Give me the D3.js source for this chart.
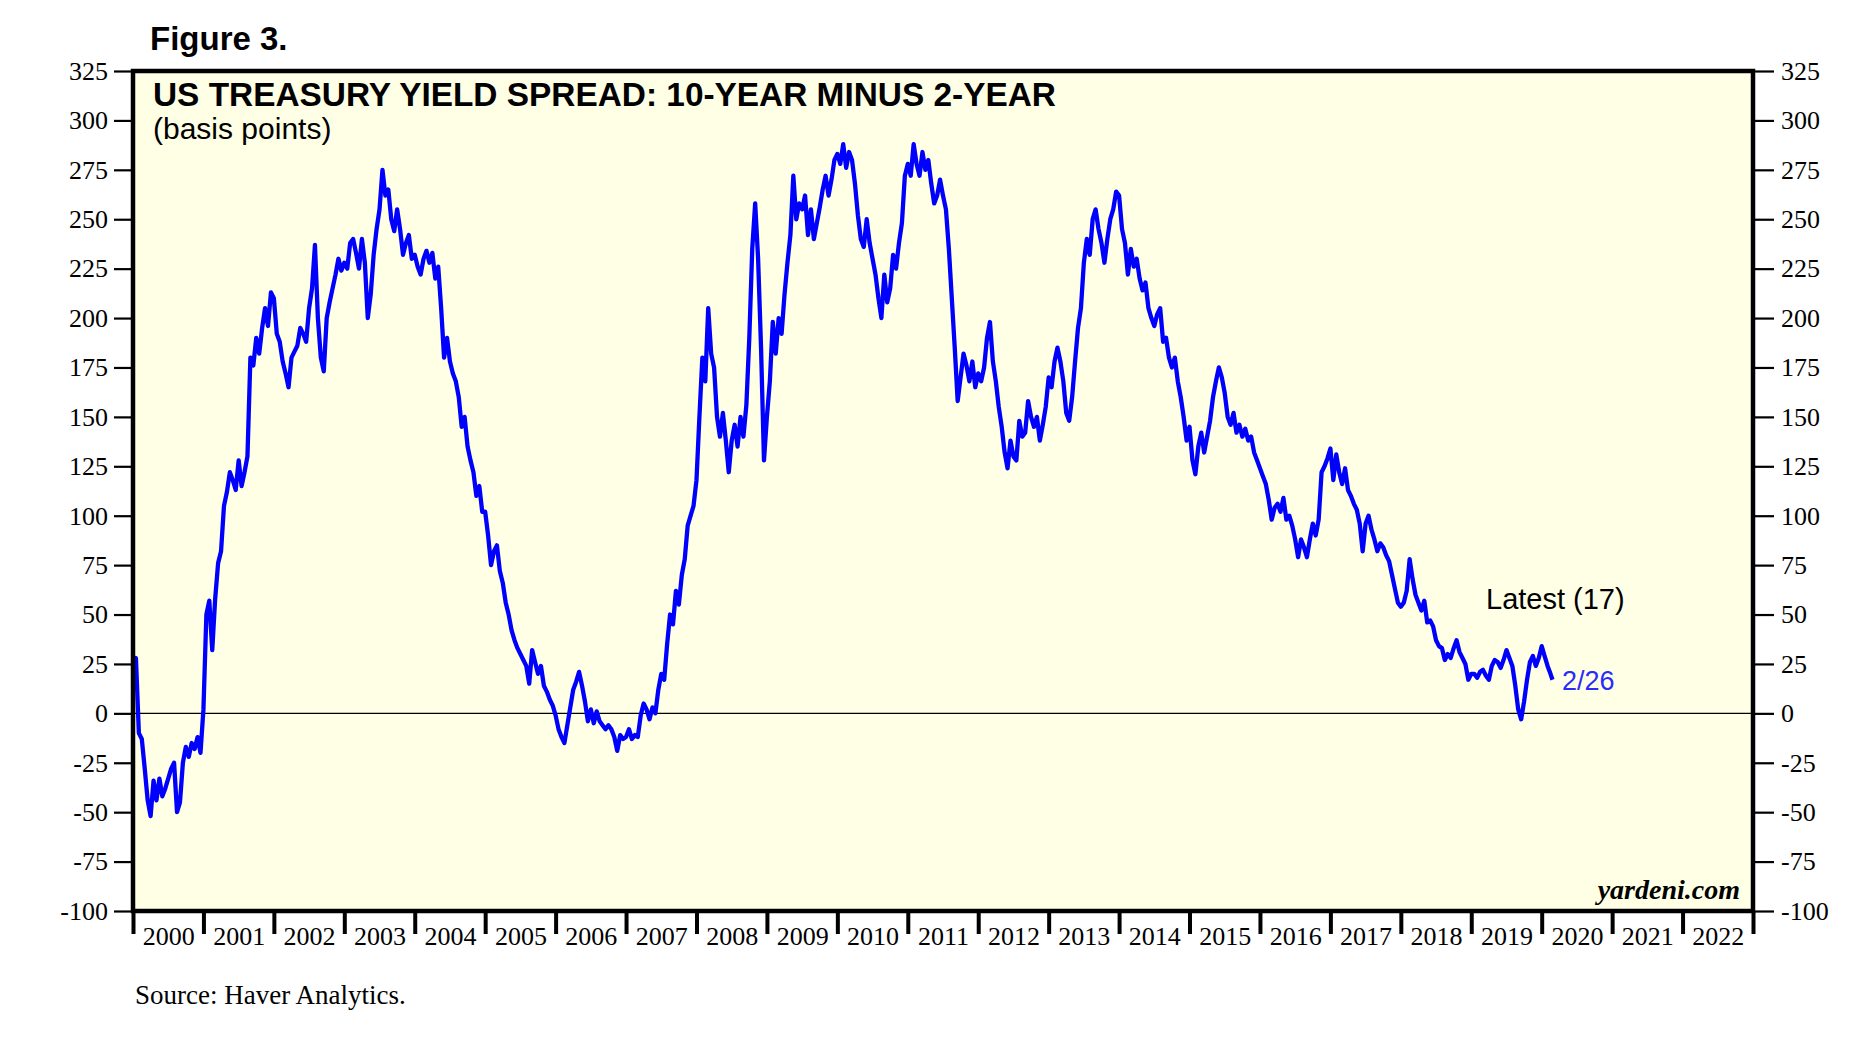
<!DOCTYPE html>
<html>
<head>
<meta charset="utf-8">
<script src="https://cdn.jsdelivr.net/npm/d3@7"></script>
<style>
  body { margin: 0; background: #fff; }
</style>
</head>
<body>
<div id="chart"></div>
<script>
// tick labels
var yearLabels = ["2000", "2001", "2002", "2003", "2004", "2005", "2006", "2007", "2008", "2009", "2010",
  "2011", "2012", "2013", "2014", "2015", "2016", "2017", "2018", "2019", "2020", "2021", "2022"];
var yTicks = [-100, -75, -50, -25, 0, 25, 50, 75, 100, 125, 150, 175, 200, 225, 250, 275, 300, 325];

var s2000 = [22, 28, -10, -13, -28, -44, -52, -34, -44, -33, -42, -38, -33, -28, -25, -50, -45, -25, -17, -22, -15, -18, -12, -20];
var s2001 = [2, 50, 57, 32, 58, 76, 82, 105, 112, 122, 118, 113, 128, 115, 122, 130, 180, 176, 190, 182, 195, 205, 196, 213];
var s2002 = [210, 192, 188, 178, 172, 165, 180, 183, 186, 195, 192, 188, 205, 215, 237, 200, 180, 173, 200, 208, 215, 222, 230, 224];
var s2003 = [228, 225, 238, 240, 233, 225, 240, 228, 200, 212, 232, 245, 255, 275, 262, 265, 250, 244, 255, 245, 232, 238, 242, 230];
var s2004 = [232, 226, 222, 230, 234, 228, 233, 220, 226, 205, 180, 190, 178, 172, 168, 160, 145, 150, 135, 128, 122, 110, 115, 102];
var s2005 = [102, 90, 75, 82, 85, 72, 66, 56, 50, 42, 37, 33, 30, 27, 24, 15, 32, 26, 20, 24, 14, 11, 7, 4];
var s2006 = [-1, -8, -12, -15, -6, 3, 12, 16, 21, 14, 6, -4, 2, -5, 1, -4, -6, -8, -6, -8, -12, -19, -11, -13];
var s2007 = [-12, -8, -13, -11, -12, -1, 5, 2, -3, 3, 0, 12, 20, 17, 35, 50, 45, 62, 55, 70, 78, 95, 100, 105];
var s2008 = [118, 150, 180, 168, 205, 182, 175, 150, 140, 152, 138, 122, 138, 146, 135, 150, 140, 156, 190, 235, 258, 230, 185, 128];
var s2009 = [150, 168, 198, 182, 200, 192, 212, 228, 242, 272, 250, 258, 255, 262, 242, 255, 240, 248, 256, 265, 272, 262, 270, 280];
var s2010 = [283, 278, 288, 276, 284, 280, 268, 252, 240, 236, 250, 238, 230, 222, 210, 200, 222, 208, 215, 232, 225, 238, 248, 272];
var s2011 = [278, 272, 288, 278, 272, 284, 275, 280, 268, 258, 262, 270, 262, 255, 235, 210, 185, 158, 170, 182, 176, 168, 178, 165];
var s2012 = [172, 168, 175, 190, 198, 178, 168, 155, 145, 132, 124, 138, 130, 128, 148, 140, 142, 158, 150, 145, 150, 138, 146, 155];
var s2013 = [170, 165, 178, 185, 178, 168, 152, 148, 160, 178, 195, 205, 228, 240, 232, 250, 255, 245, 238, 228, 240, 250, 255, 264];
var s2014 = [262, 245, 238, 222, 235, 226, 230, 220, 214, 218, 205, 200, 196, 202, 205, 188, 190, 180, 175, 180, 168, 160, 150, 138];
var s2015 = [145, 128, 121, 135, 142, 132, 140, 148, 160, 168, 175, 170, 162, 150, 146, 152, 142, 146, 140, 144, 138, 140, 132, 128];
var s2016 = [124, 120, 116, 108, 98, 104, 106, 102, 109, 98, 100, 95, 88, 79, 88, 84, 79, 88, 96, 90, 98, 122, 125, 129];
var s2017 = [134, 118, 131, 122, 116, 124, 113, 110, 106, 103, 96, 82, 96, 100, 93, 88, 82, 86, 84, 80, 77, 70, 63, 56];
var s2018 = [54, 56, 62, 78, 68, 60, 56, 52, 57, 46, 47, 44, 37, 34, 33, 27, 30, 28, 33, 37, 31, 28, 25, 17];
var s2019 = [20, 20, 18, 21, 22, 19, 17, 24, 27, 26, 23, 27, 32, 28, 24, 14, 2, -3, 6, 17, 26, 29, 24, 28];
var s2020 = [34, 29, 24, 20];
var latestLabel = "2/26";
var latestValue = 17;

var svgWidth = 1872;
var svgHeight = 1040;
var plot = { left: 133, right: 1753, top: 71, bottom: 911 };

var svg = d3.select("#chart")
  .append("svg")
  .attr("width", svgWidth)
  .attr("height", svgHeight);

var x = d3.scaleLinear().domain([2000, 2023]).range([plot.left, plot.right]);
var y = d3.scaleLinear().domain([-100, 325]).range([plot.bottom, plot.top]);

var yearly = [s2000, s2001, s2002, s2003, s2004, s2005, s2006, s2007, s2008, s2009, s2010,
  s2011, s2012, s2013, s2014, s2015, s2016, s2017, s2018, s2019, s2020];
var points = [];
yearly.forEach(function(vals, k) {
  vals.forEach(function(v, i) {
    points.push({ t: 2000 + k + i / 24, v: v });
  });
});
// feb 26 2020
points.push({ t: 2020 + 56 / 366, v: latestValue });

// plot background
svg.append("rect")
  .attr("x", plot.left)
  .attr("y", plot.top)
  .attr("width", plot.right - plot.left)
  .attr("height", plot.bottom - plot.top)
  .attr("fill", "#ffffe5");

// zero line
svg.append("line")
  .attr("x1", plot.left)
  .attr("x2", plot.right)
  .attr("y1", y(0))
  .attr("y2", y(0))
  .attr("stroke", "#000")
  .attr("stroke-width", 1.2);

var line = d3.line()
  .x(d => x(d.t))
  .y(d => y(d.v));

svg.append("path")
  .datum(points)
  .attr("d", line)
  .attr("fill", "none")
  .attr("stroke", "#0000ff")
  .attr("stroke-width", 4.3)
  .attr("stroke-linejoin", "round");

// axes
var serif = "'Liberation Serif', 'Times New Roman', serif";
var sans = "'Liberation Sans', Arial, sans-serif";

var leftAxis = d3.axisLeft(y).tickValues(yTicks).tickSize(19).tickPadding(6).tickFormat(d => String(d));
var rightAxis = d3.axisRight(y).tickValues(yTicks).tickSize(21).tickPadding(7).tickFormat(d => String(d));

function styleY(g) {
  g.select(".domain").remove();
  g.selectAll(".tick line").attr("stroke", "#000").attr("stroke-width", 2.2);
  g.selectAll(".tick text")
    .attr("fill", "#000")
    .attr("font-family", serif)
    .attr("font-size", 26);
}

svg.append("g")
  .attr("transform", `translate(${plot.left}, 0)`)
  .call(leftAxis)
  .call(styleY);

svg.append("g")
  .attr("transform", `translate(${plot.right}, 0)`)
  .call(rightAxis)
  .call(styleY);

var bottomTicks = d3.axisBottom(x)
  .tickValues(d3.range(2000, 2024))
  .tickSize(23)
  .tickFormat("");

svg.append("g")
  .attr("transform", `translate(0, ${plot.bottom})`)
  .call(bottomTicks)
  .call(g => g.select(".domain").remove())
  .call(g => g.selectAll(".tick line").attr("stroke", "#000").attr("stroke-width", 4));

var bottomLabels = d3.axisBottom(x)
  .tickValues(yearLabels.map(d => +d + 0.5))
  .tickSize(0)
  .tickPadding(16)
  .tickFormat((d, i) => yearLabels[i]);

svg.append("g")
  .attr("transform", `translate(0, ${plot.bottom})`)
  .call(bottomLabels)
  .call(g => g.select(".domain").remove())
  .call(g => g.selectAll(".tick text")
    .attr("fill", "#000")
    .attr("font-family", serif)
    .attr("font-size", 26));

// frame
svg.append("rect")
  .attr("x", plot.left)
  .attr("y", plot.top)
  .attr("width", plot.right - plot.left)
  .attr("height", plot.bottom - plot.top)
  .attr("fill", "none")
  .attr("stroke", "#000")
  .attr("stroke-width", 4.5);

// texts
svg.append("text")
  .attr("x", 150)
  .attr("y", 50)
  .attr("font-family", sans)
  .attr("font-weight", "bold")
  .attr("font-size", 33)
  .text("Figure 3.");

svg.append("text")
  .attr("x", 153)
  .attr("y", 106)
  .attr("font-family", sans)
  .attr("font-weight", "bold")
  .attr("font-size", 33.4)
  .text("US TREASURY YIELD SPREAD: 10-YEAR MINUS 2-YEAR");

svg.append("text")
  .attr("x", 153)
  .attr("y", 139)
  .attr("font-family", sans)
  .attr("font-size", 30)
  .text("(basis points)");

svg.append("text")
  .attr("x", 1486)
  .attr("y", 609)
  .attr("font-family", sans)
  .attr("font-size", 29)
  .text("Latest (" + latestValue + ")");

svg.append("text")
  .attr("x", 1562)
  .attr("y", 690)
  .attr("font-family", sans)
  .attr("font-size", 27)
  .attr("fill", "#2a2aff")
  .text(latestLabel);

svg.append("text")
  .attr("x", 1740)
  .attr("y", 899)
  .attr("text-anchor", "end")
  .attr("font-family", serif)
  .attr("font-weight", "bold")
  .attr("font-style", "italic")
  .attr("font-size", 28)
  .text("yardeni.com");

svg.append("text")
  .attr("x", 135)
  .attr("y", 1004)
  .attr("font-family", serif)
  .attr("font-size", 27)
  .text("Source: Haver Analytics.");
</script>
</body>
</html>
